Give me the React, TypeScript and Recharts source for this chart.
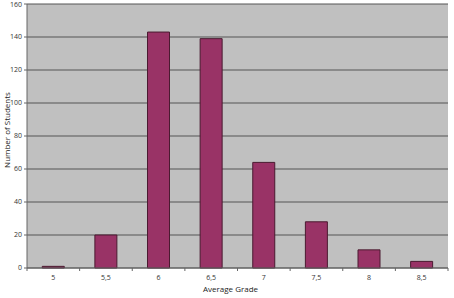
import { BarChart, Bar, XAxis, YAxis, CartesianGrid, Label } from 'recharts'

const grades = ['5', '5,5', '6', '6,5', '7', '7,5', '8', '8,5']
const students = [1, 20, 143, 139, 64, 28, 11, 4]
const yTicks = [0, 20, 40, 60, 80, 100, 120, 140, 160]

const data = grades.map((g, i) => ({ grade: g, students: students[i] }))

const W = 454
const H = 298
const M = { top: 4, right: 6, left: 0, bottom: 0 }
const Y_W = 27
const HALF_BAND = (W - M.left - M.right - Y_W) / grades.length / 2

const FONT = '"Open Sans", "DejaVu Sans", sans-serif'

const GradeTick = ({ x, y, payload, index }: any) => (
  <g>
    <line x1={x - HALF_BAND} x2={x - HALF_BAND} y1={y} y2={y + 3} stroke="#666" />
    {index === grades.length - 1 && (
      <line x1={x + HALF_BAND} x2={x + HALF_BAND} y1={y} y2={y + 3} stroke="#666" />
    )}
    <text x={x} y={y + 12} textAnchor="middle" fontSize={7} fill="#333" fontFamily={FONT}>
      {payload.value}
    </text>
  </g>
)

export default function App() {
  return (
    <div style={{ position: 'absolute', left: 0, top: 0, background: '#fff' }}>
      <BarChart width={W} height={H} data={data} margin={M} barCategoryGap="29%">
        <CartesianGrid fill="#C0C0C0" stroke="#555" vertical={false} />
        <XAxis
          dataKey="grade"
          height={30}
          stroke="#666"
          tickLine={false}
          tickSize={0}
          tickMargin={0}
          interval={0}
          tick={<GradeTick />}
        >
          <Label
            value="Average Grade"
            position="insideBottom"
            offset={6}
            dx={-7}
            style={{ fontSize: 8, fill: '#222', fontFamily: FONT }}
          />
        </XAxis>
        <YAxis
          width={Y_W}
          domain={[0, 160]}
          ticks={yTicks}
          interval={0}
          stroke="#666"
          tickSize={3}
          tickMargin={2}
          tick={{ fontSize: 7, fill: '#333', fontFamily: FONT }}
        >
          <Label
            value="Number of Students"
            angle={-90}
            position="insideLeft"
            offset={7}
            dy={-6}
            style={{ fontSize: 8, fill: '#222', fontFamily: FONT, textAnchor: 'middle' }}
          />
        </YAxis>
        <Bar dataKey="students" fill="#993366" stroke="#4a1a30" strokeWidth={1} isAnimationActive={false} />
      </BarChart>
    </div>
  )
}
